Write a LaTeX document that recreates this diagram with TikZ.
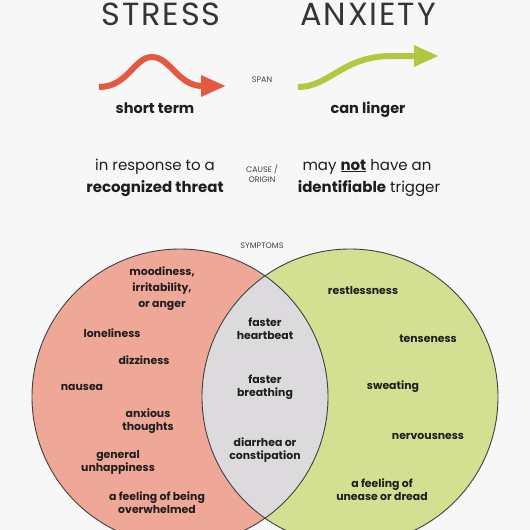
\documentclass[tikz,border=0pt]{standalone}
\usepackage{fontspec}
\setmainfont{Poppins}
\usetikzlibrary{arrows.meta}
\definecolor{bggrey}{HTML}{F7F7F7}
\definecolor{inkdark}{HTML}{1E1E1E}
\definecolor{stressred}{HTML}{E4593F}
\definecolor{anxgreen}{HTML}{B2C93F}
\definecolor{stressfill}{HTML}{EFA898}
\definecolor{anxfill}{HTML}{D3DF91}
\definecolor{bothfill}{HTML}{DCDADC}

\tikzset{
  title/.style={font=\fontsize{32}{32}\selectfont\addfontfeatures{LetterSpace=6}, text=inkdark!90, anchor=base},
  label/.style={font=\bfseries\fontsize{14.5}{16}\selectfont, text=inkdark, anchor=base},
  cause/.style={font=\fontsize{15}{16}\selectfont, text=inkdark, anchor=base},
  rowhead/.style={font=\fontsize{8}{10}\selectfont, text=inkdark!85, align=center},
  symptom/.style={font=\bfseries\fontsize{10.9}{13}\selectfont, text=inkdark, align=center},
  spanarrow/.style={line width=6pt, -{Triangle[length=25pt,width=20pt]}}
}

\begin{document}
\begin{tikzpicture}[x=1pt,y=-1pt]
    \useasboundingbox (0,0) rectangle (530,530);
    \fill[bggrey] (0,0) rectangle (530,530);
    \clip (0,0) rectangle (530,530);

    % headings
    \node[title] (stress) at (161,25.5) {STRESS};
    \node[title] (anxiety) at (368,25.5) {ANXIETY};

    % span
    \draw[spanarrow, stressred] (99,87) .. controls (128,87) and (134,57) .. (152,57)
        .. controls (170,57) and (178,86) .. (226,86);
    \draw[spanarrow, anxgreen] (298,87) .. controls (330,87) and (342,56) .. (392,56)
        -- (439,56);
    \node[rowhead] (span) at (262,80) {SPAN};
    \node[label] (shortterm) at (155,113) {short term};
    \node[label] (linger) at (368,113) {can linger};

    % cause / origin
    \node[rowhead] (origin) at (262,174) {CAUSE /\\ORIGIN};
    \node[cause] (resp1) at (155,170) {in response to a};
    \node[cause] (resp2) at (155,192.5) {\bfseries recognized threat};
    \node[cause] (trig1) at (367,170) {may \textbf{\underline{not}} have an};
    \node[cause] (trig2) at (369,192.5) {\textbf{identifiable} trigger};

    % symptoms
    \node[rowhead] (symptoms) at (262,246) {SYMPTOMS};
    \coordinate (lc) at (180,397);
    \coordinate (rc) at (350,397);
    \fill[stressfill] (lc) circle (148);
    \fill[anxfill] (rc) circle (148);
    \begin{scope}
        \clip (lc) circle (148);
        \fill[bothfill] (rc) circle (148);
    \end{scope}
    \draw[inkdark!85, line width=0.9pt] (lc) circle (148);
    \draw[inkdark!85, line width=0.9pt] (rc) circle (148);

    \node[symptom, font=\bfseries\fontsize{10.9}{16}\selectfont] (mood) at (162,289) {moodiness,\\irritability,\\or anger};
    \node[symptom] (lonely) at (112,333) {loneliness};
    \node[symptom] (dizzy) at (144,360) {dizziness};
    \node[symptom] (nausea) at (82,387) {nausea};
    \node[symptom] (thoughts) at (148,421) {anxious\\thoughts};
    \node[symptom] (unhappy) at (118,462) {general\\unhappiness};
    \node[symptom] (overwhelm) at (157,503) {a feeling of being\\overwhelmed};

    \node[symptom] (heart) at (265,329) {faster\\heartbeat};
    \node[symptom] (breath) at (265,387) {faster\\breathing};
    \node[symptom] (bowel) at (265,450) {diarrhea or\\constipation};

    \node[symptom] (restless) at (363,291) {restlessness};
    \node[symptom] (tense) at (428,339) {tenseness};
    \node[symptom] (sweat) at (393,387) {sweating};
    \node[symptom] (nervous) at (428,436) {nervousness};
    \node[symptom] (dread) at (382,490) {a feeling of\\unease or dread};
\end{tikzpicture}
\end{document}
